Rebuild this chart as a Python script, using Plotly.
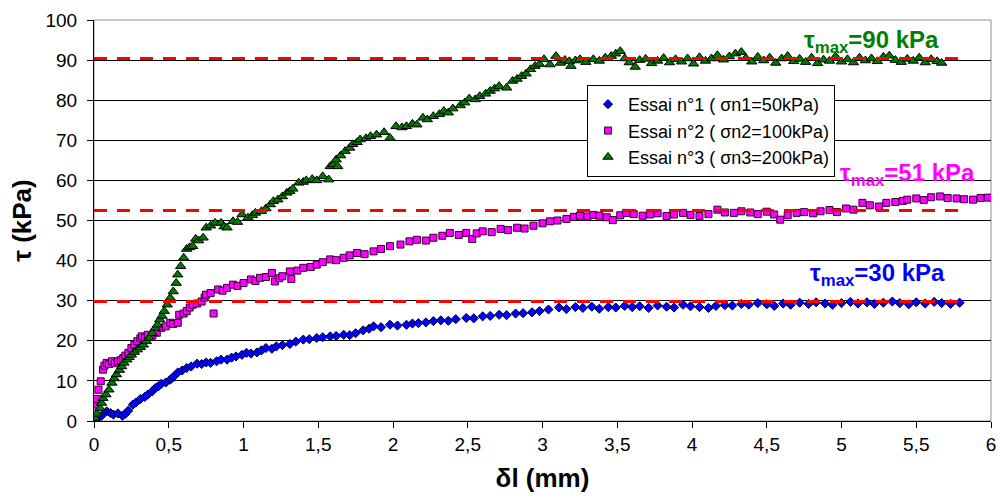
import plotly.graph_objects as go

# ---------------- data ----------------
x1 = [0, 0.03, 0.05, 0.085, 0.11, 0.13, 0.16, 0.19, 0.21, 0.23, 0.26, 0.28, 0.31, 0.34, 0.36, 0.39,
      0.41, 0.43, 0.45, 0.48, 0.51, 0.53, 0.56, 0.59, 0.62, 0.65, 0.69, 0.72, 0.75, 0.78, 0.82, 0.85,
      0.89, 0.92, 0.95, 0.99, 1.02, 1.05, 1.09, 1.12, 1.15, 1.19, 1.22, 1.26, 1.31, 1.35, 1.40, 1.44,
      1.49, 1.53, 1.58, 1.62, 1.67, 1.71, 1.75, 1.80, 1.84, 1.87, 1.92, 1.98, 2.03, 2.09, 2.13, 2.17,
      2.22, 2.27, 2.32, 2.37, 2.42, 2.49, 2.54, 2.60, 2.65, 2.71, 2.76, 2.82, 2.87, 2.93, 2.98, 3.04,
      3.11, 3.16, 3.22, 3.27, 3.33, 3.38, 3.44, 3.49, 3.55, 3.60, 3.65, 3.71, 3.77, 3.83, 3.88, 3.94,
      3.99, 4.05, 4.11, 4.16, 4.22, 4.27, 4.33, 4.38, 4.44, 4.50, 4.55, 4.61, 4.66, 4.72, 4.78, 4.83,
      4.89, 4.94, 5.00, 5.06, 5.11, 5.17, 5.22, 5.28, 5.34, 5.39, 5.45, 5.50, 5.56, 5.62, 5.67, 5.73,
      5.79]
y1 = [0.3, 1.0, 1.3, 2.4, 2.0, 1.6, 1.9, 1.3, 1.8, 2.6, 4.1, 4.6, 5.5, 6.0, 6.6, 7.4,
      8.2, 8.6, 9.3, 9.6, 10.3, 11.0, 12.1, 12.6, 13.2, 13.6, 14.3, 14.2, 14.6, 14.5, 14.9, 15.3,
      15.3, 15.8, 16.1, 16.5, 17.0, 16.8, 17.1, 17.6, 18.2, 18.0, 18.6, 18.9, 19.2, 19.8, 20.3, 20.4,
      20.7, 20.9, 21.1, 21.2, 21.5, 21.4, 21.9, 22.6, 23.0, 23.6, 23.4, 24.0, 23.8, 24.0, 24.3, 24.4,
      24.6, 24.9, 25.1, 25.0, 25.4, 25.7, 25.6, 26.1, 26.2, 26.5, 26.4, 26.8, 26.9, 27.1, 27.4, 27.8,
      28.3, 27.9, 28.4, 28.2, 28.5, 28.0, 28.4, 28.3, 28.7, 28.4, 28.6, 28.2, 28.8, 28.5, 28.3, 29.0,
      28.6, 28.4, 28.2, 28.7, 28.9, 28.8, 29.2, 29.0, 29.4, 29.1, 28.7, 29.3, 29.0, 29.5, 29.2, 29.6,
      29.3, 29.0, 29.4, 29.7, 29.3, 29.6, 29.2, 29.5, 29.8, 29.4, 29.1, 29.6, 29.3, 29.7, 29.4, 29.2,
      29.5]

x2 = [0, 0.007, 0.02, 0.03, 0.045, 0.06, 0.07, 0.085, 0.10, 0.12, 0.14, 0.16, 0.18, 0.196, 0.21, 0.23,
      0.25, 0.27, 0.29, 0.31, 0.32, 0.34, 0.36, 0.39, 0.42, 0.45, 0.48, 0.51, 0.53, 0.56, 0.57, 0.60,
      0.62, 0.64, 0.66, 0.69, 0.72, 0.74, 0.75, 0.78, 0.80, 0.83, 0.86, 0.89, 0.93, 0.96, 1.00, 1.05,
      1.08, 1.11, 1.15, 1.19, 1.21, 1.24, 1.26, 1.31, 1.32, 1.36, 1.40, 1.45, 1.49, 1.53, 1.58, 1.62,
      1.67, 1.71, 1.76, 1.81, 1.87, 1.92, 1.98, 2.05, 2.11, 2.16, 2.22, 2.27, 2.33, 2.38, 2.44, 2.49,
      2.53, 2.56, 2.60, 2.66, 2.72, 2.77, 2.83, 2.88, 2.94, 3.00, 3.05, 3.10, 3.16, 3.21, 3.25, 3.30,
      3.34, 3.38, 3.43, 3.47, 3.52, 3.56, 3.61, 3.67, 3.72, 3.77, 3.83, 3.88, 3.94, 3.99, 4.05, 4.11,
      4.17, 4.22, 4.28, 4.33, 4.39, 4.44, 4.50, 4.55, 4.59, 4.64, 4.70, 4.75, 4.81, 4.86, 4.92, 4.97,
      5.03, 5.08, 5.14, 5.19, 5.25, 5.30, 5.36, 5.41, 5.44, 5.50, 5.55, 5.60, 5.66, 5.71, 5.77, 5.82,
      5.88, 5.93, 5.98]
y2 = [0.3, 4.1, 5.5, 7.8, 9.9, 12.8, 13.8, 14.5, 14.2, 14.9, 14.4, 14.9, 15.2, 15.7, 16.3, 17.0,
      18.2, 19.0, 19.9, 20.6, 21.1, 20.8, 21.5, 21.3, 22.0, 23.2, 23.6, 24.5, 24.2, 24.5, 26.5, 26.8,
      27.4, 28.3, 29.0, 29.3, 29.8, 30.8, 31.5, 31.9, 26.8, 32.8, 32.5, 33.2, 34.0, 33.7, 34.4, 35.3,
      34.9, 35.7, 35.9, 36.9, 34.8, 35.6, 36.1, 37.3, 35.4, 37.5, 38.2, 38.4, 39.0, 39.6, 40.3, 40.1,
      40.7, 41.3, 41.9, 41.6, 42.3, 42.9, 43.6, 44.0, 44.8, 45.2, 45.0, 45.7, 46.2, 46.9, 46.4, 46.9,
      45.4, 46.8, 47.3, 47.1, 47.9, 47.6, 48.2, 48.0, 48.7, 49.3, 49.8, 50.0, 50.4, 50.9, 51.2, 51.0,
      51.4, 51.2, 50.8, 50.1, 51.3, 51.9, 51.6, 51.2, 51.5, 51.8, 51.1, 51.5, 51.9, 51.4, 51.1, 51.6,
      52.7, 52.0, 51.9, 52.3, 52.0, 51.6, 52.2, 51.5, 50.2, 51.3, 51.9, 52.1, 51.8, 52.3, 52.6, 52.1,
      53.0, 52.7, 54.4, 53.8, 53.5, 54.4, 54.6, 54.9, 55.2, 55.5, 55.1, 55.8, 56.0, 55.6, 55.5, 55.3,
      55.2, 55.6, 55.7]

x3 = [0.007, 0.02, 0.04, 0.05, 0.06, 0.08, 0.10, 0.12, 0.135, 0.15, 0.17, 0.185, 0.20, 0.22, 0.235, 0.25,
      0.27, 0.29, 0.31, 0.33, 0.35, 0.37, 0.39, 0.41, 0.425, 0.44, 0.455, 0.47, 0.49, 0.51, 0.53, 0.55,
      0.56, 0.58, 0.60, 0.62, 0.64, 0.66, 0.68, 0.70, 0.73, 0.75, 0.78, 0.81, 0.85, 0.87, 0.89, 0.93,
      0.96, 0.99, 1.03, 1.06, 1.08, 1.12, 1.15, 1.18, 1.20, 1.23, 1.26, 1.29, 1.31, 1.33, 1.37, 1.40,
      1.42, 1.46, 1.49, 1.53, 1.57, 1.58, 1.60, 1.62, 1.63, 1.65, 1.68, 1.71, 1.73, 1.76, 1.78, 1.82,
      1.85, 1.89, 1.94, 1.98, 2.02, 2.06, 2.09, 2.13, 2.16, 2.20, 2.23, 2.27, 2.31, 2.34, 2.37, 2.40,
      2.45, 2.48, 2.51, 2.55, 2.58, 2.62, 2.65, 2.68, 2.71, 2.76, 2.80, 2.83, 2.86, 2.89, 2.92, 2.95,
      2.98, 3.01, 3.05, 3.09, 3.12, 3.15, 3.18, 3.19, 3.22, 3.25, 3.29, 3.34, 3.38, 3.42, 3.46, 3.49,
      3.52, 3.55, 3.58, 3.62, 3.65, 3.69, 3.73, 3.77, 3.81, 3.85, 3.89, 3.93, 3.97, 4.01, 4.05, 4.09,
      4.13, 4.17, 4.21, 4.25, 4.29, 4.33, 4.36, 4.40, 4.44, 4.48, 4.52, 4.56, 4.60, 4.64, 4.68, 4.72,
      4.76, 4.80, 4.84, 4.88, 4.92, 4.96, 5.00, 5.04, 5.08, 5.12, 5.16, 5.20, 5.24, 5.28, 5.32, 5.36,
      5.40, 5.44, 5.48, 5.52, 5.56, 5.60, 5.64, 5.67]
y3 = [0.7, 1.8, 3.2, 4.5, 5.7, 6.6, 7.8, 9.5, 10.6, 11.6, 12.7, 13.6, 14.5, 15.3, 15.9, 16.5,
      17.2, 17.8, 18.4, 19.0, 19.9, 20.7, 21.9, 23.2, 24.0, 25.3, 26.2, 27.4, 29.0, 30.7, 32.3, 34.4,
      36.5, 38.6, 40.7, 42.9, 43.3, 43.6, 45.4, 45.0, 45.7, 48.2, 48.7, 49.4, 49.4, 48.5, 48.2, 49.8,
      49.6, 51.5, 50.7, 51.3, 51.9, 52.3, 53.0, 54.0, 54.8, 55.2, 56.0, 56.9, 57.3, 57.9, 59.4, 59.6,
      60.0, 60.3, 60.0, 61.0, 60.2, 63.5, 64.0, 65.2, 63.5, 66.2, 67.3, 68.1, 69.0, 69.5, 70.2, 70.5,
      71.0, 71.4, 72.0, 70.6, 73.5, 73.2, 73.5, 74.1, 73.9, 75.6, 75.2, 76.0, 76.5, 77.3, 76.9, 77.9,
      78.7, 79.4, 80.4, 80.2, 81.0, 81.6, 82.3, 82.9, 83.5, 83.1, 84.8, 85.3, 86.0, 86.6, 87.7, 88.5,
      89.0, 90.2, 88.9, 91.0, 89.3, 90.0, 89.7, 88.5, 89.9, 90.2, 89.5, 90.2, 89.8, 90.6, 91.0, 91.6,
      92.2, 90.4, 89.4, 88.3, 90.0, 90.3, 89.2, 89.8, 90.5, 89.4, 90.2, 89.6, 90.4, 89.1, 90.7, 89.8,
      90.4, 91.2, 90.1, 90.9, 91.6, 92.0, 90.5, 89.6, 90.8, 89.9, 90.6, 89.3, 90.4, 91.0, 89.7, 90.3,
      89.5, 90.6, 89.2, 90.1, 89.8, 90.9, 89.6, 90.2, 89.4, 90.6, 89.9, 90.4, 89.7, 90.8, 91.1, 90.0,
      89.5, 90.3, 89.8, 90.6, 89.4, 90.2, 89.7, 89.3]

series_names = ["Essai n°1 ( σn1=50kPa)", "Essai n°2 ( σn2=100kPa)", "Essai n°3 ( σn3=200kPa)"]
tau_max_levels = [29.8, 52.5, 90.4]
tau_max_line_x = [0, 5.82]
tau_max_labels = ["τ<sub>max</sub>=30 kPa", "τ<sub>max</sub>=51 kPa", "τ<sub>max</sub>=90 kPa"]
label_pos_x = [5.24, 5.44, 5.2]
label_pos_y = [36.5, 61.5, 94.7]
label_colors = ["#0000FF", "#FF00FF", "#008000"]

x_ticks = [0, 0.5, 1, 1.5, 2, 2.5, 3, 3.5, 4, 4.5, 5, 5.5, 6]
x_tick_text = ["0", "0,5", "1", "1,5", "2", "2,5", "3", "3,5", "4", "4,5", "5", "5,5", "6"]

FONT = "Liberation Sans, Arial, sans-serif"

# ---------------- figure ----------------
fig = go.Figure()

fig.add_trace(go.Scatter(x=x1, y=y1, mode="markers", name=series_names[0], legendgroup="g1",
                         marker=dict(symbol="diamond", size=7, color="#0000FF",
                                     line=dict(color="#000033", width=1))))
fig.add_trace(go.Scatter(x=x2, y=y2, mode="markers", name=series_names[1], legendgroup="g2",
                         marker=dict(symbol="square", size=7, color="#FF00FF",
                                     line=dict(color="#330033", width=1))))
fig.add_trace(go.Scatter(x=x3, y=y3, mode="markers", name=series_names[2], legendgroup="g3",
                         marker=dict(symbol="triangle-up", size=9, color="#007A00",
                                     line=dict(color="#000000", width=1))))

for lvl in tau_max_levels:
    fig.add_trace(go.Scatter(x=tau_max_line_x, y=[lvl, lvl], mode="lines", showlegend=False,
                             hoverinfo="skip",
                             line=dict(color="#FF0000", width=3, dash="13px,10px")))

for txt, ax_, ay_, col in zip(tau_max_labels, label_pos_x, label_pos_y, label_colors):
    fig.add_annotation(x=ax_, y=ay_, text="<b>" + txt + "</b>", showarrow=False,
                       font=dict(family=FONT, size=24, color=col),
                       xanchor="center", yanchor="middle")

# plot border (top/right grey)
fig.add_shape(type="rect", xref="paper", yref="paper", x0=0, y0=0, x1=1, y1=1,
              line=dict(color="#909090", width=1), layer="below")

fig.update_layout(
    width=998, height=496,
    margin=dict(l=94, r=7, t=20, b=75, autoexpand=False),
    paper_bgcolor="white", plot_bgcolor="white",
    font=dict(family=FONT, size=19, color="black"),
    legend=dict(x=0.5496, y=0.838, xanchor="left", yanchor="top",
                bgcolor="white", bordercolor="black", borderwidth=1,
                font=dict(size=18), itemsizing="trace", traceorder="grouped",
                tracegroupgap=0),
    showlegend=True,
)
fig.update_xaxes(range=[0, 6], tickvals=x_ticks, ticktext=x_tick_text, automargin=False,
                 showgrid=False, zeroline=False, showline=True, linecolor="black", linewidth=1,
                 ticks="outside", ticklen=6, tickcolor="black",
                 title=dict(text="<b>δl (mm)</b>", font=dict(size=26), standoff=15))
fig.update_yaxes(range=[0, 100], dtick=10, showgrid=True, gridcolor="black", gridwidth=1,
                 automargin=False, ticklabelstandoff=6,
                 zeroline=False, showline=True, linecolor="black", linewidth=1,
                 ticks="outside", ticklen=6, tickcolor="black",
                 title=dict(text="<b>τ (kPa)</b>", font=dict(size=26), standoff=6))

fig.write_html("out.html", config={"displayModeBar": False},
               post_script="document.body.style.margin='0';document.body.style.padding='0';")
